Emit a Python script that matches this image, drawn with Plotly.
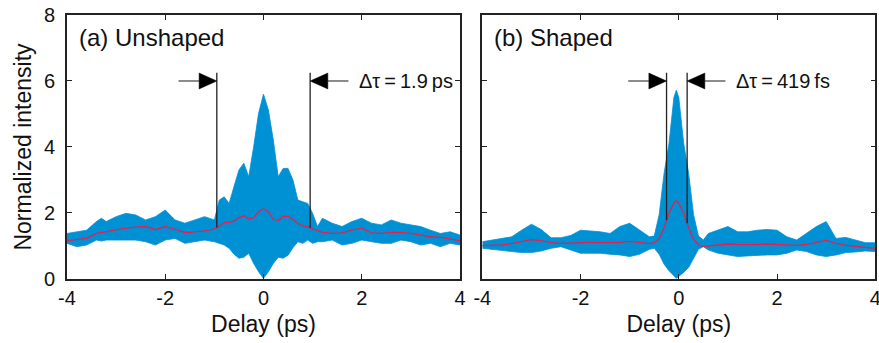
import numpy as np
import plotly.graph_objects as go

# ---------------- data ----------------
XA = [-4.0, -3.8, -3.6, -3.4, -3.3, -3.2, -3.0, -2.8, -2.6, -2.4, -2.2, -2.0, -1.8, -1.6, -1.4, -1.2, -1.0,
      -0.9, -0.8, -0.7, -0.6, -0.5, -0.4, -0.3, -0.2, -0.1, 0.0, 0.1, 0.2, 0.3, 0.4, 0.5, 0.6, 0.7, 0.8, 0.9,
      1.0, 1.1, 1.2, 1.4, 1.6, 1.8, 2.0, 2.2, 2.4, 2.6, 2.8, 3.0, 3.2, 3.4, 3.6, 3.8, 4.0]
UPPER_A = [1.38, 1.43, 1.48, 1.74, 1.84, 1.74, 1.89, 1.99, 1.94, 1.79, 1.89, 2.09, 1.79, 1.69, 1.79, 1.89, 1.79,
           2.39, 2.49, 2.29, 2.80, 3.30, 3.51, 3.10, 4.01, 5.02, 5.60, 5.12, 4.21, 3.10, 3.35, 3.35, 3.00, 2.39, 2.34, 2.29,
           1.99, 1.59, 1.84, 1.69, 1.59, 1.74, 1.84, 1.69, 1.64, 1.79, 1.69, 1.64, 1.59, 1.48, 1.38, 1.43, 1.33]
LOWER_A = [1.08, 0.98, 1.03, 1.18, 1.15, 1.18, 1.18, 1.18, 1.18, 1.13, 1.03, 1.18, 1.23, 1.08, 1.13, 1.18, 1.13,
           1.08, 1.03, 0.93, 0.75, 0.63, 0.66, 0.78, 0.47, 0.22, 0.02, 0.22, 0.47, 0.66, 0.63, 0.72, 0.95, 1.13, 1.08, 1.18,
           1.08, 1.13, 1.13, 1.18, 1.03, 1.08, 1.18, 1.13, 1.08, 1.08, 1.18, 1.13, 1.03, 1.08, 0.98, 1.08, 1.03]
MEAN_A = [1.16, 1.20, 1.23, 1.38, 1.41, 1.43, 1.50, 1.54, 1.57, 1.59, 1.50, 1.59, 1.50, 1.41, 1.43, 1.46, 1.52,
          1.60, 1.71, 1.72, 1.76, 1.86, 1.92, 1.82, 1.86, 2.04, 2.13, 2.03, 1.81, 1.77, 1.90, 1.90, 1.80, 1.69, 1.61, 1.58,
          1.52, 1.46, 1.41, 1.38, 1.40, 1.48, 1.54, 1.40, 1.38, 1.41, 1.41, 1.38, 1.32, 1.28, 1.26, 1.21, 1.16]

XB = [-4.0, -3.8, -3.6, -3.4, -3.2, -3.0, -2.8, -2.6, -2.4, -2.2, -2.0, -1.8, -1.6, -1.4, -1.2, -1.0, -0.8, -0.6,
      -0.5, -0.4, -0.3, -0.2, -0.1, -0.05, 0.0, 0.1, 0.2, 0.3, 0.4, 0.5, 0.6,
      0.8, 1.0, 1.2, 1.4, 1.6, 1.8, 2.0, 2.2, 2.4, 2.6, 2.8, 3.0, 3.2, 3.4, 3.6, 3.8, 4.0]
UPPER_B = [1.13, 1.18, 1.23, 1.28, 1.48, 1.66, 1.50, 1.25, 1.25, 1.32, 1.48, 1.46, 1.43, 1.38, 1.59, 1.69, 1.48, 1.28,
           1.30, 1.95, 3.20, 4.10, 5.50, 5.72, 5.50, 4.10, 3.20, 1.95, 1.30, 1.18, 1.38,
           1.48, 1.59, 1.43, 1.43, 1.48, 1.50, 1.48, 1.28, 1.18, 1.38, 1.59, 1.74, 1.23, 1.26, 1.18, 1.10, 1.10]
LOWER_B = [0.93, 0.90, 0.88, 0.85, 0.80, 0.80, 0.85, 0.93, 0.98, 0.88, 0.78, 0.78, 0.78, 0.75, 0.73, 0.68, 0.75, 0.90,
           0.93, 0.75, 0.45, 0.25, 0.10, 0.02, 0.08, 0.20, 0.35, 0.62, 0.90, 0.98, 0.88,
           0.78, 0.73, 0.68, 0.70, 0.72, 0.73, 0.73, 0.78, 0.88, 0.83, 0.73, 0.68, 0.73, 0.80, 0.82, 0.85, 0.83]
MEAN_B = [1.01, 1.02, 1.03, 1.07, 1.12, 1.19, 1.16, 1.10, 1.08, 1.09, 1.11, 1.11, 1.10, 1.10, 1.11, 1.14, 1.11, 1.07,
          1.10, 1.22, 1.55, 2.00, 2.30, 2.37, 2.30, 2.00, 1.55, 1.20, 1.03, 0.99, 1.00,
          1.02, 1.06, 1.04, 1.03, 1.04, 1.06, 1.05, 1.03, 1.02, 1.05, 1.10, 1.17, 1.08, 1.02, 0.99, 0.96, 0.93]

X_TICKS = [-4, -2, 0, 2, 4]
X_TICKTEXT = ["-4", "-2", "0", "2", "4"]
Y_TICKS = [0, 2, 4, 6, 8]

PANEL_LABELS = ["(a) Unshaped", "(b) Shaped"]
WIDTH_LABELS = ["Δτ\u2009=\u20091.9\u2009ps", "Δτ\u2009=\u2009419\u2009fs"]
FWHM = [1.9, 0.419]          # ps
CENTER = [0.0, -0.04]        # ps
ARROW_LEVEL = 6.0
LINE_TOP = 6.25
SHAFT_LEN = [0.78, 0.78]     # ps

BLUE = "#0091D5"
RED = "#E4204F"
FONT = "Liberation Sans, Arial, Helvetica, sans-serif"

fig = go.Figure()

panels = [(XA, UPPER_A, LOWER_A, MEAN_A, "x", "y"), (XB, UPPER_B, LOWER_B, MEAN_B, "x2", "y2")]
for xs, up, lo, me, xa, ya in panels:
    fig.add_trace(go.Scatter(x=xs, y=up, mode="lines", line=dict(color=BLUE, width=0.8),
                             xaxis=xa, yaxis=ya, showlegend=False, hoverinfo="skip"))
    fig.add_trace(go.Scatter(x=xs, y=lo, mode="lines", line=dict(color=BLUE, width=0.8),
                             fill="tonexty", fillcolor=BLUE,
                             xaxis=xa, yaxis=ya, showlegend=False, hoverinfo="skip"))
    fig.add_trace(go.Scatter(x=xs, y=me, mode="lines", line=dict(color=RED, width=1.3),
                             xaxis=xa, yaxis=ya, showlegend=False, hoverinfo="skip"))

shapes = []
annotations = []
HEAD_L = 0.36   # ps
HEAD_H = 0.24   # intensity units (half height)
for i, (xs, up, lo, me, xa, ya) in enumerate(panels):
    left = CENTER[i] - FWHM[i] / 2
    right = CENTER[i] + FWHM[i] / 2
    for edge, sgn in ((left, -1), (right, 1)):
        bottom = float(np.interp(edge, xs, me))
        shapes.append(dict(type="line", xref=xa, yref=ya, x0=edge, x1=edge, y0=bottom, y1=LINE_TOP,
                           line=dict(color="#222222", width=1.3)))
        shapes.append(dict(type="line", xref=xa, yref=ya, x0=edge + sgn * SHAFT_LEN[i], x1=edge + sgn * HEAD_L,
                           y0=ARROW_LEVEL, y1=ARROW_LEVEL, line=dict(color="#666666", width=1.5)))
        bx = edge + sgn * HEAD_L
        path = f"M {edge} {ARROW_LEVEL} L {bx} {ARROW_LEVEL + HEAD_H} L {bx} {ARROW_LEVEL - HEAD_H} Z"
        shapes.append(dict(type="path", xref=xa, yref=ya, path=path, fillcolor="black",
                           line=dict(color="black", width=0.5)))
    annotations.append(dict(xref=xa, yref=ya, x=right + SHAFT_LEN[i] + 0.17, y=ARROW_LEVEL,
                            text=WIDTH_LABELS[i], showarrow=False, xanchor="left", yanchor="middle",
                            font=dict(size=20, color="#111111", family=FONT)))
    annotations.append(dict(xref=xa, yref=ya, x=-3.8, y=7.33, text=PANEL_LABELS[i], showarrow=False,
                            xanchor="left", yanchor="middle", font=dict(size=24, color="#111111", family=FONT)))

axis_common = dict(showgrid=False, zeroline=False, showline=True, linecolor="#222222", linewidth=1.5,
                   mirror="ticks", ticks="inside", ticklen=5, tickwidth=1.2, tickcolor="#222222",
                   automargin=False, ticklabeloverflow="allow",
                   tickfont=dict(size=20, color="#111111", family=FONT))
xd = dict(axis_common, range=[-4, 4], tickvals=X_TICKS, ticktext=X_TICKTEXT,
          title=dict(text="Delay (ps)", font=dict(size=23, color="#111111", family=FONT), standoff=8))
yd = dict(axis_common, range=[0, 8], tickvals=Y_TICKS)

fig.update_layout(
    width=879, height=343, margin=dict(l=0, r=0, t=0, b=0, autoexpand=False),
    paper_bgcolor="white", plot_bgcolor="white",
    font=dict(family=FONT),
    xaxis=dict(xd, domain=[0.0762, 0.5233], anchor="y"),
    yaxis=dict(yd, domain=[0.1866, 0.9563], anchor="x", ticklabelstandoff=6,
               title=dict(text="Normalized intensity", font=dict(size=23, color="#111111", family=FONT),
                          standoff=6)),
    xaxis2=dict(xd, domain=[0.5487, 0.9958], anchor="y2"),
    yaxis2=dict(yd, domain=[0.1866, 0.9563], anchor="x2", showticklabels=False),
    shapes=shapes, annotations=annotations,
)

fig.write_html("out.html")
